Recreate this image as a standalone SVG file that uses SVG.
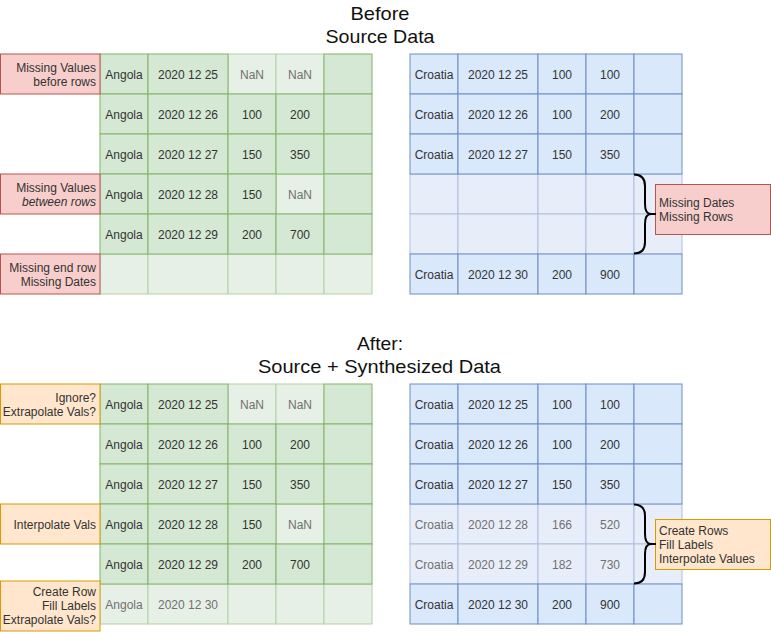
<svg xmlns="http://www.w3.org/2000/svg" width="771" height="632" viewBox="0 0 771 632">
<style>
text{font-family:"Liberation Sans",Arial,sans-serif;font-size:12px;fill:#333}
.title{font-size:18.5px;fill:#111;text-anchor:middle}
.c{text-anchor:middle}
.r{text-anchor:end}
.lt{fill:#707070}
.g{fill:#d5e8d4;stroke:#82b366;stroke-width:1}
.gl{fill:#e7f0e6;stroke:#b3d1a3;stroke-width:1}
.b{fill:#dae8fc;stroke:#6c8ebf;stroke-width:1}
.bl{fill:#e8eef9;stroke:#aebfdb;stroke-width:1}
.red{fill:#f8cecc;stroke:#b85450;stroke-width:1}
.org{fill:#ffe6cc;stroke:#d79b00;stroke-width:1}
.brace{fill:none;stroke:#000;stroke-width:2}
</style>
<rect width="771" height="632" fill="#fff"/>

<g id="title-before">
<text class="title" x="380" y="19.5" textLength="59" lengthAdjust="spacingAndGlyphs">Before</text>
<text class="title" x="380" y="43" textLength="109" lengthAdjust="spacingAndGlyphs">Source Data</text>
</g>
<g id="title-after">
<text class="title" x="380" y="350" textLength="46" lengthAdjust="spacingAndGlyphs">After:</text>
<text class="title" x="379.5" y="373" textLength="243" lengthAdjust="spacingAndGlyphs">Source + Synthesized Data</text>
</g>

<!-- Before: Angola table -->
<g id="table-angola-before">
<rect class="gl" x="228" y="54" width="48" height="40"/>
<rect class="gl" x="276" y="54" width="48" height="40"/>
<rect class="gl" x="276" y="174" width="48" height="40"/>
<rect class="gl" x="100" y="254" width="48" height="40"/>
<rect class="gl" x="148" y="254" width="80" height="40"/>
<rect class="gl" x="228" y="254" width="48" height="40"/>
<rect class="gl" x="276" y="254" width="48" height="40"/>
<rect class="gl" x="324" y="254" width="48" height="40"/>
<rect class="g" x="100" y="54" width="48" height="40"/><rect class="g" x="148" y="54" width="80" height="40"/><rect class="g" x="324" y="54" width="48" height="40"/>
<rect class="g" x="100" y="94" width="48" height="40"/><rect class="g" x="148" y="94" width="80" height="40"/><rect class="g" x="228" y="94" width="48" height="40"/><rect class="g" x="276" y="94" width="48" height="40"/><rect class="g" x="324" y="94" width="48" height="40"/>
<rect class="g" x="100" y="134" width="48" height="40"/><rect class="g" x="148" y="134" width="80" height="40"/><rect class="g" x="228" y="134" width="48" height="40"/><rect class="g" x="276" y="134" width="48" height="40"/><rect class="g" x="324" y="134" width="48" height="40"/>
<rect class="g" x="100" y="174" width="48" height="40"/><rect class="g" x="148" y="174" width="80" height="40"/><rect class="g" x="228" y="174" width="48" height="40"/><rect class="g" x="324" y="174" width="48" height="40"/>
<rect class="g" x="100" y="214" width="48" height="40"/><rect class="g" x="148" y="214" width="80" height="40"/><rect class="g" x="228" y="214" width="48" height="40"/><rect class="g" x="276" y="214" width="48" height="40"/><rect class="g" x="324" y="214" width="48" height="40"/>
<text class="c" x="124" y="78.5">Angola</text><text class="c" x="188" y="78.5">2020 12 25</text><text class="c lt" x="252" y="78.5">NaN</text><text class="c lt" x="300" y="78.5">NaN</text>
<text class="c" x="124" y="118.5">Angola</text><text class="c" x="188" y="118.5">2020 12 26</text><text class="c" x="252" y="118.5">100</text><text class="c" x="300" y="118.5">200</text>
<text class="c" x="124" y="158.5">Angola</text><text class="c" x="188" y="158.5">2020 12 27</text><text class="c" x="252" y="158.5">150</text><text class="c" x="300" y="158.5">350</text>
<text class="c" x="124" y="198.5">Angola</text><text class="c" x="188" y="198.5">2020 12 28</text><text class="c" x="252" y="198.5">150</text><text class="c lt" x="300" y="198.5">NaN</text>
<text class="c" x="124" y="238.5">Angola</text><text class="c" x="188" y="238.5">2020 12 29</text><text class="c" x="252" y="238.5">200</text><text class="c" x="300" y="238.5">700</text>
</g>

<!-- Before: Croatia table -->
<g id="table-croatia-before">
<rect class="bl" x="410" y="174" width="48" height="40"/><rect class="bl" x="458" y="174" width="80" height="40"/><rect class="bl" x="538" y="174" width="48" height="40"/><rect class="bl" x="586" y="174" width="48" height="40"/><rect class="bl" x="634" y="174" width="48" height="40"/>
<rect class="bl" x="410" y="214" width="48" height="40"/><rect class="bl" x="458" y="214" width="80" height="40"/><rect class="bl" x="538" y="214" width="48" height="40"/><rect class="bl" x="586" y="214" width="48" height="40"/><rect class="bl" x="634" y="214" width="48" height="40"/>
<rect class="b" x="410" y="54" width="48" height="40"/><rect class="b" x="458" y="54" width="80" height="40"/><rect class="b" x="538" y="54" width="48" height="40"/><rect class="b" x="586" y="54" width="48" height="40"/><rect class="b" x="634" y="54" width="48" height="40"/>
<rect class="b" x="410" y="94" width="48" height="40"/><rect class="b" x="458" y="94" width="80" height="40"/><rect class="b" x="538" y="94" width="48" height="40"/><rect class="b" x="586" y="94" width="48" height="40"/><rect class="b" x="634" y="94" width="48" height="40"/>
<rect class="b" x="410" y="134" width="48" height="40"/><rect class="b" x="458" y="134" width="80" height="40"/><rect class="b" x="538" y="134" width="48" height="40"/><rect class="b" x="586" y="134" width="48" height="40"/><rect class="b" x="634" y="134" width="48" height="40"/>
<rect class="b" x="410" y="254" width="48" height="40"/><rect class="b" x="458" y="254" width="80" height="40"/><rect class="b" x="538" y="254" width="48" height="40"/><rect class="b" x="586" y="254" width="48" height="40"/><rect class="b" x="634" y="254" width="48" height="40"/>
<text class="c" x="434" y="78.5">Croatia</text><text class="c" x="498" y="78.5">2020 12 25</text><text class="c" x="562" y="78.5">100</text><text class="c" x="610" y="78.5">100</text>
<text class="c" x="434" y="118.5">Croatia</text><text class="c" x="498" y="118.5">2020 12 26</text><text class="c" x="562" y="118.5">100</text><text class="c" x="610" y="118.5">200</text>
<text class="c" x="434" y="158.5">Croatia</text><text class="c" x="498" y="158.5">2020 12 27</text><text class="c" x="562" y="158.5">150</text><text class="c" x="610" y="158.5">350</text>
<text class="c" x="434" y="278.5">Croatia</text><text class="c" x="498" y="278.5">2020 12 30</text><text class="c" x="562" y="278.5">200</text><text class="c" x="610" y="278.5">900</text>
</g>

<!-- After: Angola table -->
<g id="table-angola-after">
<rect class="gl" x="228" y="384" width="48" height="40"/>
<rect class="gl" x="276" y="384" width="48" height="40"/>
<rect class="gl" x="276" y="504" width="48" height="40"/>
<rect class="gl" x="100" y="584" width="48" height="40"/>
<rect class="gl" x="148" y="584" width="80" height="40"/>
<rect class="gl" x="228" y="584" width="48" height="40"/>
<rect class="gl" x="276" y="584" width="48" height="40"/>
<rect class="gl" x="324" y="584" width="48" height="40"/>
<rect class="g" x="100" y="384" width="48" height="40"/><rect class="g" x="148" y="384" width="80" height="40"/><rect class="g" x="324" y="384" width="48" height="40"/>
<rect class="g" x="100" y="424" width="48" height="40"/><rect class="g" x="148" y="424" width="80" height="40"/><rect class="g" x="228" y="424" width="48" height="40"/><rect class="g" x="276" y="424" width="48" height="40"/><rect class="g" x="324" y="424" width="48" height="40"/>
<rect class="g" x="100" y="464" width="48" height="40"/><rect class="g" x="148" y="464" width="80" height="40"/><rect class="g" x="228" y="464" width="48" height="40"/><rect class="g" x="276" y="464" width="48" height="40"/><rect class="g" x="324" y="464" width="48" height="40"/>
<rect class="g" x="100" y="504" width="48" height="40"/><rect class="g" x="148" y="504" width="80" height="40"/><rect class="g" x="228" y="504" width="48" height="40"/><rect class="g" x="324" y="504" width="48" height="40"/>
<rect class="g" x="100" y="544" width="48" height="40"/><rect class="g" x="148" y="544" width="80" height="40"/><rect class="g" x="228" y="544" width="48" height="40"/><rect class="g" x="276" y="544" width="48" height="40"/><rect class="g" x="324" y="544" width="48" height="40"/>
<text class="c" x="124" y="408.5">Angola</text><text class="c" x="188" y="408.5">2020 12 25</text><text class="c lt" x="252" y="408.5">NaN</text><text class="c lt" x="300" y="408.5">NaN</text>
<text class="c" x="124" y="448.5">Angola</text><text class="c" x="188" y="448.5">2020 12 26</text><text class="c" x="252" y="448.5">100</text><text class="c" x="300" y="448.5">200</text>
<text class="c" x="124" y="488.5">Angola</text><text class="c" x="188" y="488.5">2020 12 27</text><text class="c" x="252" y="488.5">150</text><text class="c" x="300" y="488.5">350</text>
<text class="c" x="124" y="528.5">Angola</text><text class="c" x="188" y="528.5">2020 12 28</text><text class="c" x="252" y="528.5">150</text><text class="c lt" x="300" y="528.5">NaN</text>
<text class="c" x="124" y="568.5">Angola</text><text class="c" x="188" y="568.5">2020 12 29</text><text class="c" x="252" y="568.5">200</text><text class="c" x="300" y="568.5">700</text>
<text class="c lt" x="124" y="608.5">Angola</text><text class="c lt" x="188" y="608.5">2020 12 30</text>
</g>

<!-- After: Croatia table -->
<g id="table-croatia-after">
<rect class="bl" x="410" y="504" width="48" height="40"/><rect class="bl" x="458" y="504" width="80" height="40"/><rect class="bl" x="538" y="504" width="48" height="40"/><rect class="bl" x="586" y="504" width="48" height="40"/><rect class="bl" x="634" y="504" width="48" height="40"/>
<rect class="bl" x="410" y="544" width="48" height="40"/><rect class="bl" x="458" y="544" width="80" height="40"/><rect class="bl" x="538" y="544" width="48" height="40"/><rect class="bl" x="586" y="544" width="48" height="40"/><rect class="bl" x="634" y="544" width="48" height="40"/>
<rect class="b" x="410" y="384" width="48" height="40"/><rect class="b" x="458" y="384" width="80" height="40"/><rect class="b" x="538" y="384" width="48" height="40"/><rect class="b" x="586" y="384" width="48" height="40"/><rect class="b" x="634" y="384" width="48" height="40"/>
<rect class="b" x="410" y="424" width="48" height="40"/><rect class="b" x="458" y="424" width="80" height="40"/><rect class="b" x="538" y="424" width="48" height="40"/><rect class="b" x="586" y="424" width="48" height="40"/><rect class="b" x="634" y="424" width="48" height="40"/>
<rect class="b" x="410" y="464" width="48" height="40"/><rect class="b" x="458" y="464" width="80" height="40"/><rect class="b" x="538" y="464" width="48" height="40"/><rect class="b" x="586" y="464" width="48" height="40"/><rect class="b" x="634" y="464" width="48" height="40"/>
<rect class="b" x="410" y="584" width="48" height="40"/><rect class="b" x="458" y="584" width="80" height="40"/><rect class="b" x="538" y="584" width="48" height="40"/><rect class="b" x="586" y="584" width="48" height="40"/><rect class="b" x="634" y="584" width="48" height="40"/>
<text class="c" x="434" y="408.5">Croatia</text><text class="c" x="498" y="408.5">2020 12 25</text><text class="c" x="562" y="408.5">100</text><text class="c" x="610" y="408.5">100</text>
<text class="c" x="434" y="448.5">Croatia</text><text class="c" x="498" y="448.5">2020 12 26</text><text class="c" x="562" y="448.5">100</text><text class="c" x="610" y="448.5">200</text>
<text class="c" x="434" y="488.5">Croatia</text><text class="c" x="498" y="488.5">2020 12 27</text><text class="c" x="562" y="488.5">150</text><text class="c" x="610" y="488.5">350</text>
<text class="c lt" x="434" y="528.5">Croatia</text><text class="c lt" x="498" y="528.5">2020 12 28</text><text class="c lt" x="562" y="528.5">166</text><text class="c lt" x="610" y="528.5">520</text>
<text class="c lt" x="434" y="568.5">Croatia</text><text class="c lt" x="498" y="568.5">2020 12 29</text><text class="c lt" x="562" y="568.5">182</text><text class="c lt" x="610" y="568.5">730</text>
<text class="c" x="434" y="608.5">Croatia</text><text class="c" x="498" y="608.5">2020 12 30</text><text class="c" x="562" y="608.5">200</text><text class="c" x="610" y="608.5">900</text>
</g>

<!-- Labels before -->
<g id="label-missing-before">
<rect class="red" x="0.5" y="54" width="99.5" height="40"/>
<text class="r" x="96" y="71.5">Missing Values</text>
<text class="r" x="96" y="85.5">before rows</text>
</g>
<g id="label-missing-between">
<rect class="red" x="0.5" y="174" width="99.5" height="40"/>
<text class="r" x="96" y="191.5">Missing Values</text>
<text class="r" x="96" y="205.5" font-style="italic">between rows</text>
</g>
<g id="label-missing-end">
<rect class="red" x="0.5" y="254" width="99.5" height="40"/>
<text class="r" x="96" y="271.5">Missing end row</text>
<text class="r" x="96" y="285.5">Missing Dates</text>
</g>
<g id="label-missing-rows">
<rect class="red" x="655.5" y="184.5" width="115" height="50"/>
<text x="659" y="207">Missing Dates</text>
<text x="659" y="221">Missing Rows</text>
</g>

<!-- Labels after -->
<g id="label-ignore">
<rect class="org" x="0.5" y="384" width="99.5" height="40"/>
<text class="r" x="96" y="401.5">Ignore?</text>
<text class="r" x="96" y="415.5">Extrapolate Vals?</text>
</g>
<g id="label-interpolate">
<rect class="org" x="0.5" y="504" width="99.5" height="40"/>
<text class="r" x="96" y="528.5">Interpolate Vals</text>
</g>
<g id="label-create-row">
<rect class="org" x="0.5" y="581" width="99.5" height="50"/>
<text class="r" x="96" y="596">Create Row</text>
<text class="r" x="96" y="610">Fill Labels</text>
<text class="r" x="96" y="624">Extrapolate Vals?</text>
</g>
<g id="label-create-rows">
<rect class="org" x="655.5" y="519.5" width="115" height="50"/>
<text x="659" y="535">Create Rows</text>
<text x="659" y="549">Fill Labels</text>
<text x="659" y="563">Interpolate Values</text>
</g>

<g id="connectors">
<path class="brace" d="M634,174.5 Q645,174.5 645,186 L645,204 Q645,214 651,214 L656,214 M651,214 Q645,214 645,224 L645,242 Q645,253.5 634,253.5"/>
<path class="brace" d="M634,504.5 Q645,504.5 645,516 L645,534 Q645,544 651,544 L656,544 M651,544 Q645,544 645,554 L645,572 Q645,583.5 634,583.5"/>
</g>
</svg>
